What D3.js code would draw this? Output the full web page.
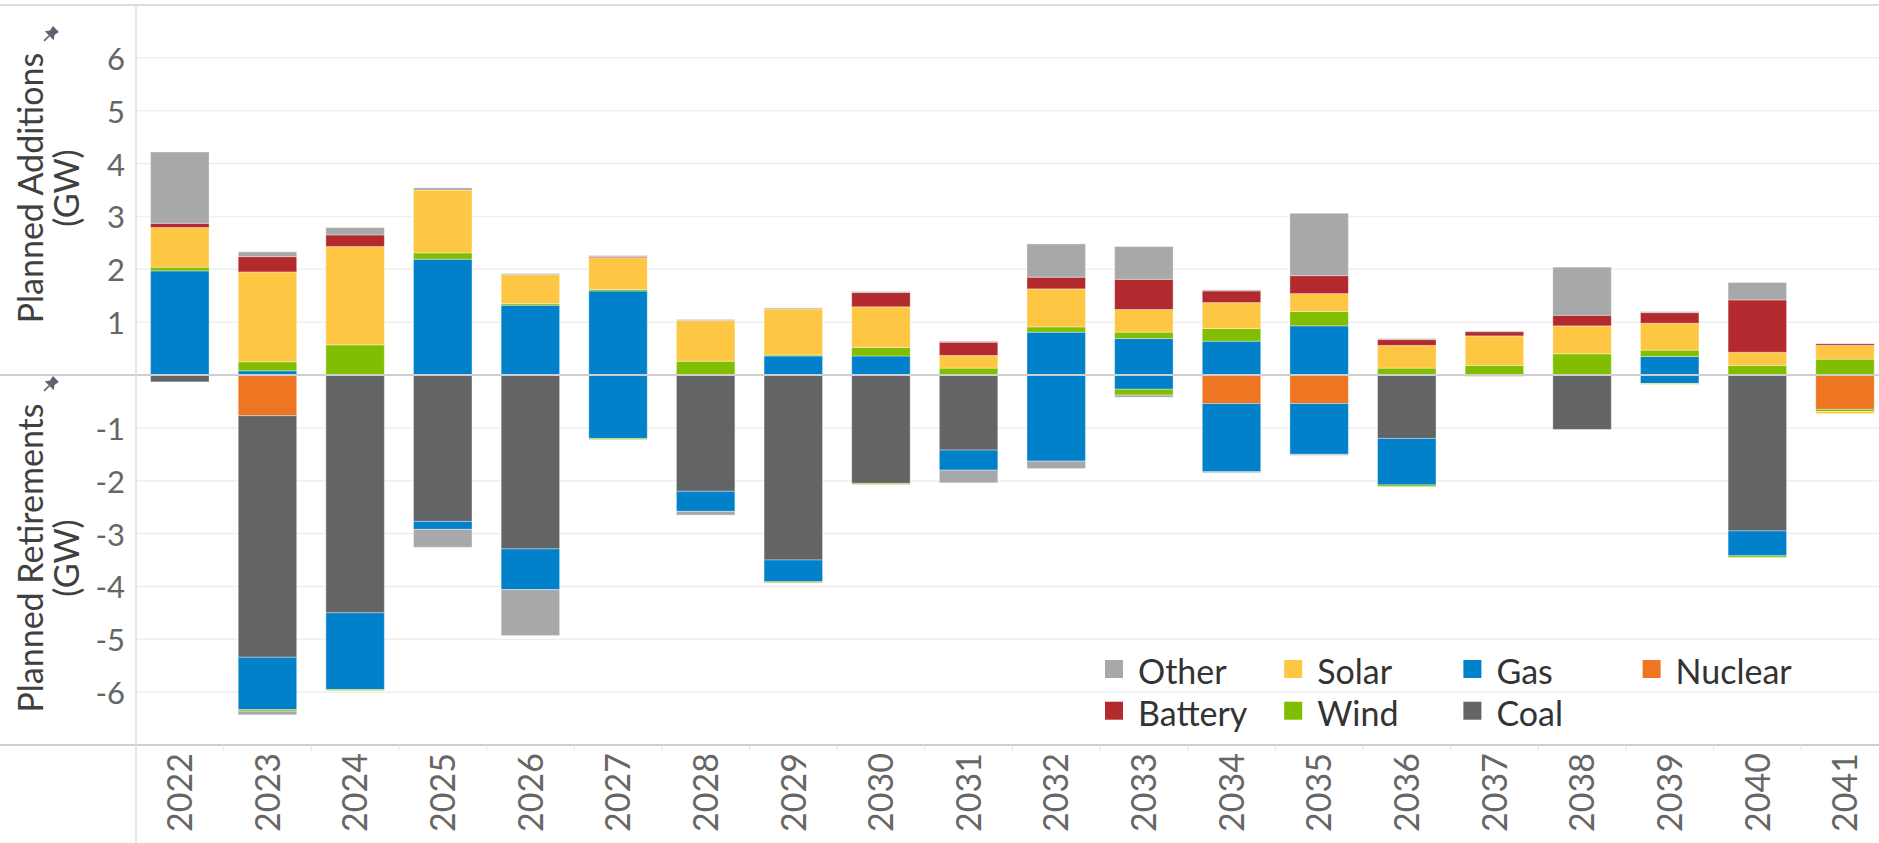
<!DOCTYPE html>
<html>
<head>
<meta charset="utf-8">
<script src="https://cdn.jsdelivr.net/npm/d3@7"></script>
<style>
  html, body { margin: 0; padding: 0; background: #fff; }
  svg { display: block; font-family: Lato, "Open Sans", sans-serif; }
</style>
</head>
<body>
<div id="chart"></div>
<script>
var years = ['2022', '2023', '2024', '2025', '2026', '2027', '2028', '2029', '2030', '2031',
             '2032', '2033', '2034', '2035', '2036', '2037', '2038', '2039', '2040', '2041'];

// stacking order, from the zero line outward
var techs = ['Nuclear', 'Coal', 'Gas', 'Wind', 'Solar', 'Battery', 'Other'];

// planned additions (GW)
var addGas     = [1.97, 0.08, 0, 2.19, 1.32, 1.59, 0, 0.36, 0.36, 0, 0.81, 0.69, 0.64, 0.93, 0, 0, 0, 0.35, 0, 0];
var addWind    = [0.07, 0.17, 0.57, 0.12, 0.03, 0.03, 0.26, 0.02, 0.16, 0.13, 0.10, 0.12, 0.24, 0.27, 0.13, 0.18, 0.40, 0.12, 0.18, 0.30];
var addSolar   = [0.75, 1.70, 1.86, 1.19, 0.55, 0.60, 0.77, 0.87, 0.77, 0.24, 0.72, 0.43, 0.49, 0.34, 0.43, 0.56, 0.53, 0.51, 0.25, 0.26];
var addBattery = [0.08, 0.29, 0.22, 0, 0, 0.02, 0, 0, 0.27, 0.25, 0.22, 0.57, 0.22, 0.34, 0.11, 0.08, 0.20, 0.20, 0.99, 0.03];
var addOther   = [1.35, 0.09, 0.14, 0.04, 0.02, 0.02, 0.02, 0.02, 0.02, 0.02, 0.63, 0.62, 0.02, 1.18, 0.02, 0.01, 0.91, 0.02, 0.33, 0];

// planned retirements (GW)
var retNuclear = [0, 0.77, 0, 0, 0, 0, 0, 0, 0, 0, 0, 0, 0.54, 0.54, 0, 0, 0, 0, 0, 0.65];
var retCoal    = [0.13, 4.57, 4.50, 2.77, 3.29, 0, 2.20, 3.50, 2.05, 1.42, 0, 0, 0, 0, 1.20, 0, 1.03, 0, 2.95, 0];
var retGas     = [0, 0.99, 1.45, 0.15, 0.77, 1.20, 0.38, 0.41, 0, 0.38, 1.63, 0.27, 1.29, 0.96, 0.88, 0, 0, 0.16, 0.47, 0];
var retWind    = [0, 0.03, 0.02, 0, 0, 0.02, 0, 0.02, 0.02, 0, 0, 0.11, 0, 0, 0.03, 0, 0, 0, 0.03, 0.04];
var retSolar   = [0, 0, 0, 0, 0, 0, 0, 0, 0, 0, 0, 0, 0, 0, 0, 0.03, 0, 0.02, 0, 0.04];
var retOther   = [0, 0.07, 0, 0.34, 0.87, 0, 0.07, 0, 0, 0.24, 0.14, 0.04, 0.02, 0.02, 0, 0, 0, 0, 0, 0];

var yTicks = [-6, -5, -4, -3, -2, -1, 1, 2, 3, 4, 5, 6];

var legendRows = [['Other', 'Solar', 'Gas', 'Nuclear'], ['Battery', 'Wind', 'Coal']];

var colors = {
  Other: '#a7a8aa',
  Solar: '#fec743',
  Gas: '#0081c9',
  Nuclear: '#ee7623',
  Battery: '#b2292e',
  Wind: '#81bd00',
  Coal: '#636466'
};

(function() {
  var width = 1879, height = 843;
  var left = 136, top = 5, bottom = 745;

  var svg = d3.select('#chart').append('svg')
    .attr('width', width)
    .attr('height', height);

  var addRows = years.map(function(y, i) {
    return { year: y, Nuclear: 0, Coal: 0, Gas: addGas[i], Wind: addWind[i],
             Solar: addSolar[i], Battery: addBattery[i], Other: addOther[i] };
  });
  var retRows = years.map(function(y, i) {
    return { year: y, Nuclear: -retNuclear[i], Coal: -retCoal[i], Gas: -retGas[i], Wind: -retWind[i],
             Solar: -retSolar[i], Battery: 0, Other: -retOther[i] };
  });

  var stack = d3.stack().keys(techs).offset(d3.stackOffsetDiverging);
  var series = stack(addRows).concat(stack(retRows));

  var x = d3.scaleBand()
    .domain(years)
    .range([left, left + 20 * 87.64])
    .paddingInner(0.333)
    .paddingOuter(0.1665);

  var y = d3.scaleLinear()
    .domain([-7, 7])
    .range([bottom, top]);

  // gridlines
  svg.append('g').selectAll('line')
    .data(yTicks)
    .join('line')
    .attr('x1', left).attr('x2', width)
    .attr('y1', function(d) { return y(d); })
    .attr('y2', function(d) { return y(d); })
    .attr('stroke', '#efefef')
    .attr('stroke-width', 1.5);

  // bars
  svg.append('g').selectAll('g')
    .data(series)
    .join('g')
    .attr('fill', function(s) { return colors[s.key]; })
    .selectAll('rect')
    .data(function(s) { return s.filter(function(d) { return d[1] - d[0] !== 0; }); })
    .join('rect')
    .attr('x', function(d) { return x(d.data.year); })
    .attr('width', x.bandwidth())
    .attr('y', function(d) { return y(Math.max(d[0], d[1])); })
    .attr('height', function(d) { return Math.abs(y(d[0]) - y(d[1])); })
    .attr('stroke', '#fff')
    .attr('stroke-opacity', 0.35)
    .attr('stroke-width', 1);

  // frame lines
  svg.append('line')
    .attr('x1', 0).attr('x2', width).attr('y1', top).attr('y2', top)
    .attr('stroke', '#dcdcdc').attr('stroke-width', 2);
  svg.append('line')
    .attr('x1', 0).attr('x2', width).attr('y1', y(0)).attr('y2', y(0))
    .attr('stroke', '#cfcfcf').attr('stroke-width', 2);
  svg.append('line')
    .attr('x1', 0).attr('x2', width).attr('y1', bottom).attr('y2', bottom)
    .attr('stroke', '#cfcfcf').attr('stroke-width', 2);
  svg.append('line')
    .attr('x1', left).attr('x2', left).attr('y1', top).attr('y2', height)
    .attr('stroke', '#dedede').attr('stroke-width', 1.5);

  // y tick labels
  svg.append('g').selectAll('text')
    .data(yTicks)
    .join('text')
    .attr('x', 125)
    .attr('y', function(d) { return y(d) + 12; })
    .attr('text-anchor', 'end')
    .attr('fill', '#666')
    .attr('font-size', 31)
    .text(function(d) { return d; });

  // x axis: separators and rotated year labels
  var xAxis = svg.append('g');
  xAxis.selectAll('line')
    .data(years.slice(1))
    .join('line')
    .attr('x1', function(d) { return x(d) - x.step() * x.paddingInner() / 2; })
    .attr('x2', function(d) { return x(d) - x.step() * x.paddingInner() / 2; })
    .attr('y1', bottom).attr('y2', bottom + 6)
    .attr('stroke', '#e6e6e6');
  xAxis.selectAll('text')
    .data(years)
    .join('text')
    .attr('transform', function(d) {
      return 'translate(' + (x(d) + x.bandwidth() / 2) + ',' + 753 + ') rotate(-90)';
    })
    .attr('dy', '0.36em')
    .attr('text-anchor', 'end')
    .attr('fill', '#666')
    .attr('font-size', 34)
    .text(function(d) { return d; });

  // axis titles with pin marks
  function axisTitle(lines, cy) {
    var g = svg.append('g');
    lines.forEach(function(t, i) {
      g.append('text')
        .attr('transform', 'translate(' + (43 + i * 36) + ',' + cy + ') rotate(-90)')
        .attr('text-anchor', 'middle')
        .attr('fill', '#404040')
        .attr('font-size', 34)
        .text(t);
    });
  }
  axisTitle(['Planned Additions', '(GW)'], 188);
  axisTitle(['Planned Retirements', '(GW)'], 558);

  [[50, 35], [50, 385]].forEach(function(p) {
    var pin = svg.append('g')
      .attr('transform', 'translate(' + p[0] + ',' + p[1] + ') rotate(45) scale(1.05)')
      .attr('fill', '#5b6470');
    pin.append('path').attr('d', 'M-4,-8 L4,-8 L3,-3 L6,1 L-6,1 L-3,-3 Z');
    pin.append('path').attr('d', 'M0,1 L0,8').attr('stroke', '#5b6470').attr('stroke-width', 1.6);
  });

  // legend
  var legend = svg.append('g');
  legendRows.forEach(function(row, r) {
    row.forEach(function(name, c) {
      var lx = 1105 + c * 179.2, ly = 660 + r * 41.7;
      legend.append('rect')
        .attr('x', lx).attr('y', ly)
        .attr('width', 18).attr('height', 18)
        .attr('fill', colors[name]);
      legend.append('text')
        .attr('x', lx + 33).attr('y', ly + 24)
        .attr('fill', '#333')
        .attr('font-size', 34)
        .text(name);
    });
  });
})();
</script>
</body>
</html>
